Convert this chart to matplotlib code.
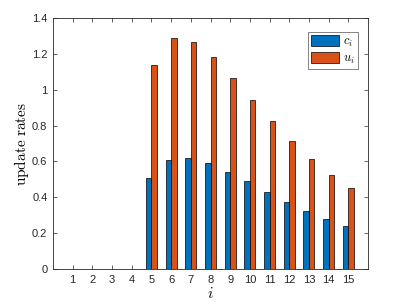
import numpy as np
import matplotlib.pyplot as plt

plt.rcParams['mathtext.fontset'] = 'cm'
plt.rcParams['font.family'] = ['Liberation Sans', 'DejaVu Sans']

idx = np.arange(1, 16)
c_vals = [0, 0, 0, 0, 0.51, 0.61, 0.62, 0.59, 0.54, 0.49, 0.43, 0.375, 0.325, 0.28, 0.24]
u_vals = [0, 0, 0, 0, 1.14, 1.29, 1.265, 1.18, 1.065, 0.945, 0.825, 0.715, 0.615, 0.525, 0.45]
yticks = [0, 0.2, 0.4, 0.6, 0.8, 1, 1.2, 1.4]
ytick_labels = ['0', '0.2', '0.4', '0.6', '0.8', '1', '1.2', '1.4']

fig = plt.figure(figsize=(4.07, 3.05), dpi=100)
ax = fig.add_axes([53 / 407, 36 / 305, 315 / 407, 251 / 305])

w = 0.28
ax.bar(idx - w / 2, c_vals, w, color='#0072BD', edgecolor='black', linewidth=0.5, label=r'$c_i$')
ax.bar(idx + w / 2, u_vals, w, color='#D95319', edgecolor='black', linewidth=0.5, label=r'$u_i$')

ax.set_xlim(0, 16)
ax.set_ylim(0, 1.4)
ax.set_xticks(idx)
ax.set_xticklabels([str(i) for i in idx])
ax.set_yticks(yticks)
ax.set_yticklabels(ytick_labels)
ax.tick_params(direction='in', top=True, right=True, length=3, width=0.5,
               labelsize=8, colors='#262626', pad=4)
for s in ax.spines.values():
    s.set_linewidth(0.6)
    s.set_color('#262626')

ax.set_xlabel(r'$i$', fontsize=11, labelpad=1)
ax.set_ylabel(r'$\mathrm{update\ rates}$', fontsize=11, labelpad=1)

leg = ax.legend(loc='upper right', fontsize=9, frameon=True, fancybox=False,
                edgecolor='#262626', handlelength=2.2, handleheight=1.0,
                borderpad=0.25, labelspacing=0.25, handletextpad=0.35,
                borderaxespad=0, bbox_to_anchor=(0.968, 0.944))
leg.get_frame().set_linewidth(0.5)

fig.savefig('out.png', dpi=100)
